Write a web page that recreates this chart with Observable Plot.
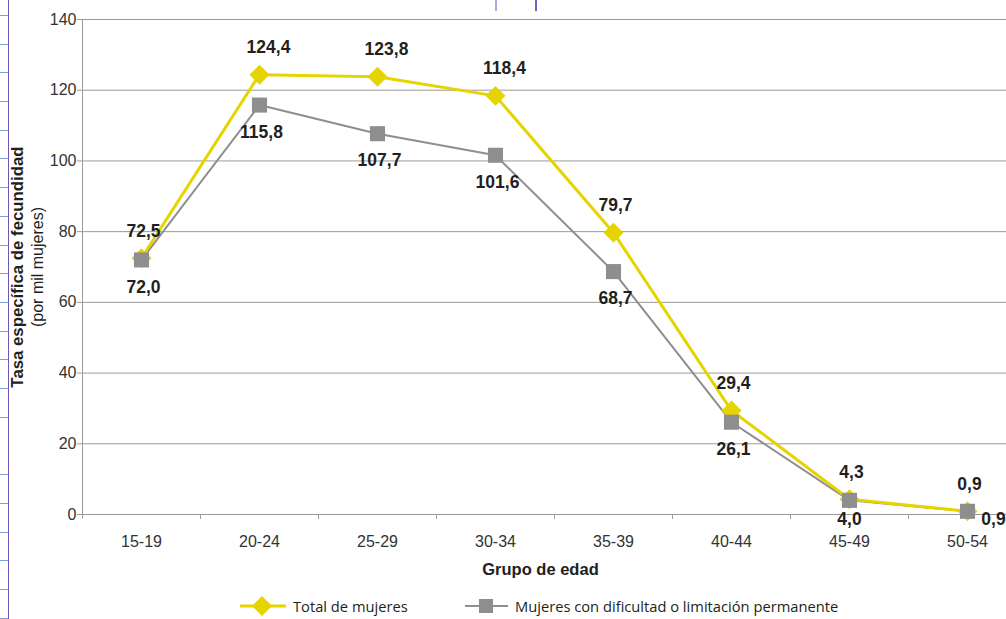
<!DOCTYPE html>
<html>
<head>
<meta charset="utf-8">
<script src="https://cdn.jsdelivr.net/npm/d3@7"></script>
<script src="https://cdn.jsdelivr.net/npm/@observablehq/plot@0.6"></script>
<style>
  html, body { margin: 0; padding: 0; background: #fff; }
  body { width: 1006px; height: 619px; overflow: hidden; position: relative; }
  #chart svg { max-width: none !important; display: block; }
  #chart svg text { font-family: "Liberation Sans", Arial, Helvetica, sans-serif !important; }
  .legend { position: absolute; top: 596px; height: 20px; display: flex; align-items: center;
            font-family: "Open Sans", "Noto Sans", sans-serif; font-size: 14.7px; color: #231f20; white-space: nowrap; }
  .legend svg { display: block; margin-right: 7px; }
  .scan-left { position: absolute; left: 0; top: 0; width: 8px; height: 619px;
               border-right: 1.5px solid #6f55b5;
               background: repeating-linear-gradient(to bottom, transparent 0px, transparent 15px, #7fa0dc 15px, #7fa0dc 16px, transparent 16px, transparent 28.7px); }
  .scan-top1 { position: absolute; left: 495px; top: 0; width: 2px; height: 11px; background: #b6a6dc; }
  .scan-top2 { position: absolute; left: 535px; top: 0; width: 1.5px; height: 11px; background: #7a5cc0; }
</style>
</head>
<body>
<div id="chart"></div>
<div class="scan-left"></div>
<div class="scan-top1"></div>
<div class="scan-top2"></div>
<div class="legend" id="leg1" style="left:240px"></div>
<div class="legend" id="leg2" style="left:465px"></div>
<script>
// ---- data ----
const groups = ["15-19", "20-24", "25-29", "30-34", "35-39", "40-44", "45-49", "50-54"];
const totalValues = [72.5, 124.4, 123.8, 118.4, 79.7, 29.4, 4.3, 0.9];
const limitValues = [72.0, 115.8, 107.7, 101.6, 68.7, 26.1, 4.0, 0.9];
const yTicks = [0, 20, 40, 60, 80, 100, 120, 140];
const seriesNames = ["Total de mujeres", "Mujeres con dificultad o limitación permanente"];
const xTitle = "Grupo de edad";
const yTitle = "Tasa específica de fecundidad";
const ySubtitle = "(por mil mujeres)";

// ---- styling ----
const YELLOW = "#e5d400";
const GRAY = "#8e8e8f";
const GRID = "#9a9a9a";
const INK = "#231f20";

const total = groups.map((g, i) => ({group: g, value: totalValues[i]}));
const limit = groups.map((g, i) => ({group: g, value: limitValues[i]}));
const fmt = v => v.toFixed(1).replace(".", ",");

const W = 1026, ML = 82, MR = 0;
const step = (W - ML - MR) / groups.length;
const shifted = new Set(["20-24", "25-29", "30-34"]);

const labelStyle = {fontSize: 17.5, fontWeight: "bold", fill: INK, x: "group", y: "value", text: d => fmt(d.value)};

const chart = Plot.plot({
  width: W,
  height: 590,
  marginLeft: ML,
  marginRight: MR,
  marginTop: 19,
  marginBottom: 76,
  style: {fontFamily: "'Liberation Sans', Arial, Helvetica, sans-serif", fontSize: "15px", color: "#333", background: "#fff", maxWidth: "none", overflow: "visible"},
  x: {type: "point", domain: groups, padding: 0.5},
  y: {domain: [0, 140]},
  marks: [
    Plot.gridY(yTicks, {stroke: GRID, strokeOpacity: 1}),
    Plot.axisY({ticks: yTicks, tickSize: 5, tickPadding: 1, stroke: GRID, fill: "#333", fontSize: 16, label: null}),
    Plot.ruleX([groups[0]], {x: d => d, dx: -step / 2, y1: -1.2, y2: 140, stroke: GRID}),
    Plot.ruleX(groups, {x: d => d, dx: step / 2, y1: -1.4, y2: 0, stroke: GRID}),
    Plot.axisX({tickSize: 0, tickPadding: 21, fontSize: 16, fill: "#333", label: null}),
    Plot.text([xTitle], {frameAnchor: "bottom", dx: -14, dy: 60, fontSize: 16.5, fontWeight: "bold", fill: INK}),
    Plot.text([yTitle], {frameAnchor: "left", textAnchor: "middle", rotate: -90, dx: -65, fontSize: 16.8, fontWeight: "bold", fill: INK}),
    Plot.text([ySubtitle], {frameAnchor: "left", textAnchor: "middle", rotate: -90, dx: -45, fontSize: 16, fill: INK}),
    Plot.line(limit, {x: "group", y: "value", stroke: GRAY, strokeWidth: 2}),
    Plot.line(total, {x: "group", y: "value", stroke: YELLOW, strokeWidth: 3}),
    Plot.dot(total, {x: "group", y: "value", symbol: "diamond2", r: 9, fill: YELLOW, stroke: "none"}),
    Plot.dot(limit, {x: "group", y: "value", symbol: "square", r: 8.5, fill: GRAY, stroke: "none"}),
    Plot.text(total.filter(d => shifted.has(d.group)), {...labelStyle, dx: 9, dy: -27}),
    Plot.text(total.filter(d => !shifted.has(d.group)), {...labelStyle, dx: 2, dy: -27}),
    Plot.text(limit.slice(0, 6), {...labelStyle, dx: 2, dy: 27}),
    Plot.text(limit.slice(6, 7), {...labelStyle, dx: 0, dy: 19}),
    Plot.text(limit.slice(7), {...labelStyle, dx: 26, dy: 8})
  ]
});
document.getElementById("chart").appendChild(chart);

// ---- legend ----
function swatch(kind) {
  const ns = "http://www.w3.org/2000/svg";
  const s = document.createElementNS(ns, "svg");
  s.setAttribute("width", kind === "diamond" ? 46 : 43);
  s.setAttribute("height", 20);
  const line = document.createElementNS(ns, "line");
  line.setAttribute("x1", 0); line.setAttribute("y1", 10);
  line.setAttribute("x2", kind === "diamond" ? 46 : 43); line.setAttribute("y2", 10);
  line.setAttribute("stroke", kind === "diamond" ? YELLOW : GRAY);
  line.setAttribute("stroke-width", kind === "diamond" ? 3 : 2);
  s.appendChild(line);
  if (kind === "diamond") {
    const p = document.createElementNS(ns, "path");
    p.setAttribute("d", "M22,0 L32,10 L22,20 L12,10 Z");
    p.setAttribute("fill", YELLOW);
    s.appendChild(p);
  } else {
    const r = document.createElementNS(ns, "rect");
    r.setAttribute("x", 14); r.setAttribute("y", 3); r.setAttribute("width", 14); r.setAttribute("height", 14);
    r.setAttribute("fill", GRAY);
    s.appendChild(r);
  }
  return s;
}
const leg1 = document.getElementById("leg1");
leg1.appendChild(swatch("diamond"));
leg1.appendChild(document.createTextNode(seriesNames[0]));
const leg2 = document.getElementById("leg2");
leg2.appendChild(swatch("square"));
leg2.appendChild(document.createTextNode(seriesNames[1]));
</script>
</body>
</html>
